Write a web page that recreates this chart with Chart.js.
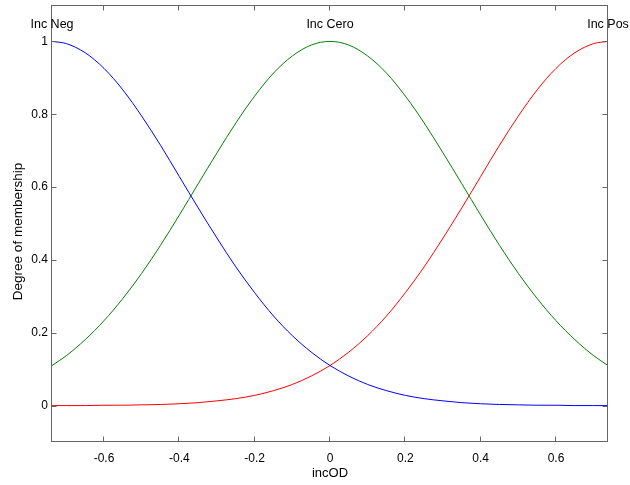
<!DOCTYPE html>
<html>
<head>
<meta charset="utf-8">
<script src="https://cdn.jsdelivr.net/npm/chart.js@4/dist/chart.umd.min.js"></script>
<style>
  html, body { margin: 0; padding: 0; background: #fff; }
</style>
</head>
<body>
<canvas id="mfChart" width="630" height="485"></canvas>
<script>
// incOD input values
const xValues = [-0.738, -0.7, -0.65, -0.6, -0.55, -0.5, -0.45, -0.4, -0.35, -0.3, -0.25, -0.2, -0.15, -0.1, -0.05,
                 0, 0.05, 0.1, 0.15, 0.2, 0.25, 0.3, 0.35, 0.4, 0.45, 0.5, 0.55, 0.6, 0.65, 0.7, 0.738];

// membership degree of each set
const incNeg = [1, 0.994, 0.969, 0.926, 0.867, 0.795, 0.715, 0.629, 0.543, 0.46, 0.381, 0.31, 0.246, 0.192, 0.147,
                0.11, 0.081, 0.058, 0.041, 0.028, 0.019, 0.013, 0.008, 0.005, 0.003, 0.002, 0.001, 0.001, 0, 0, 0];
const incCero = [0.11, 0.137, 0.181, 0.233, 0.294, 0.363, 0.44, 0.523, 0.609, 0.694, 0.776, 0.85, 0.913, 0.96, 0.99,
                 1, 0.99, 0.96, 0.913, 0.85, 0.776, 0.694, 0.609, 0.523, 0.44, 0.363, 0.294, 0.233, 0.181, 0.137, 0.11];
const incPos = [0, 0, 0, 0.001, 0.001, 0.002, 0.003, 0.005, 0.008, 0.013, 0.019, 0.028, 0.041, 0.058, 0.081,
                0.11, 0.147, 0.192, 0.246, 0.31, 0.381, 0.46, 0.543, 0.629, 0.715, 0.795, 0.867, 0.926, 0.969, 0.994, 1];

const mfNames = ['Inc Neg', 'Inc Cero', 'Inc Pos'];
const mfPeaks = [-0.738, 0, 0.738];
const mfColors = ['#0000ff', '#008000', '#ff0000'];

const xTicks = [-0.6, -0.4, -0.2, 0, 0.2, 0.4, 0.6];
const yTicks = [0, 0.2, 0.4, 0.6, 0.8, 1];

const fontFamily = '"Liberation Sans", Arial, sans-serif';

function toPoints(ys) {
    return xValues.map((x, i) => ({ x: x, y: ys[i] }));
}

// MATLAB style box with inward ticks, the set names over each peak and the y label
const axesBox = {
    id: 'axesBox',
    afterDatasetsDraw(chart) {
        const ctx = chart.ctx;
        const a = chart.chartArea;
        const xs = chart.scales.x;
        const ys = chart.scales.y;
        const l = Math.round(a.left) - 0.5, r = Math.round(a.right) - 0.5;
        const t = Math.round(a.top) + 0.5, b = Math.round(a.bottom) - 0.5;
        ctx.save();
        ctx.strokeStyle = '#666';
        ctx.lineWidth = 1;
        ctx.strokeRect(l, t, r - l, b - t);
        ctx.beginPath();
        xTicks.forEach(v => {
            const px = Math.round(xs.getPixelForValue(v)) - 0.5;
            ctx.moveTo(px, b); ctx.lineTo(px, b - 5);
            ctx.moveTo(px, t); ctx.lineTo(px, t + 5);
        });
        yTicks.forEach(v => {
            const py = Math.round(ys.getPixelForValue(v)) + 0.5;
            ctx.moveTo(l, py); ctx.lineTo(l + 5, py);
            ctx.moveTo(r, py); ctx.lineTo(r - 5, py);
        });
        ctx.stroke();

        ctx.fillStyle = '#000';
        ctx.font = '12.5px ' + fontFamily;
        ctx.textAlign = 'center';
        ctx.textBaseline = 'middle';
        mfNames.forEach((name, i) => {
            ctx.fillText(name, xs.getPixelForValue(mfPeaks[i]), ys.getPixelForValue(1.047));
        });

        // y label sits a little below the middle of the axes, as in the original
        ctx.font = '13.5px ' + fontFamily;
        ctx.translate(18, (a.top + a.bottom) / 2 + 8);
        ctx.rotate(-Math.PI / 2);
        ctx.fillText('Degree of membership', 0, 0);
        ctx.restore();
    }
};

const tickFont = { family: fontFamily, size: 12 };

new Chart(document.getElementById('mfChart'), {
    type: 'line',
    data: {
        datasets: [
            { label: mfNames[0], data: toPoints(incNeg), borderColor: mfColors[0] },
            { label: mfNames[1], data: toPoints(incCero), borderColor: mfColors[1] },
            { label: mfNames[2], data: toPoints(incPos), borderColor: mfColors[2] }
        ]
    },
    options: {
        responsive: false,
        animation: false,
        layout: { padding: { top: 5, right: 22, left: 0, bottom: 0 } },
        elements: {
            line: { borderWidth: 1, cubicInterpolationMode: 'monotone', fill: false },
            point: { radius: 0 }
        },
        scales: {
            x: {
                type: 'linear',
                min: -0.738,
                max: 0.738,
                grid: { display: false, drawTicks: false },
                border: { display: false },
                afterBuildTicks: scale => { scale.ticks = xTicks.map(v => ({ value: v })); },
                afterFit: scale => {
                    scale.height = 43;
                    scale.paddingLeft = 0;
                    scale.paddingRight = 0;
                },
                ticks: {
                    color: '#000',
                    font: tickFont,
                    padding: 9,
                    maxRotation: 0,
                    callback: v => String(v)
                },
                title: {
                    display: true,
                    text: 'incOD',
                    color: '#000',
                    font: { family: fontFamily, size: 13 },
                    padding: { top: 0, bottom: 4 }
                }
            },
            y: {
                type: 'linear',
                min: -0.1,
                max: 1.1,
                grid: { display: false, drawTicks: false },
                border: { display: false },
                afterBuildTicks: scale => { scale.ticks = yTicks.map(v => ({ value: v })); },
                afterFit: scale => {
                    scale.width = 52;
                    scale.paddingTop = 0;
                    scale.paddingBottom = 0;
                },
                ticks: {
                    color: '#000',
                    font: tickFont,
                    padding: 4,
                    callback: v => String(v)
                }
            }
        },
        plugins: {
            legend: { display: false },
            tooltip: { enabled: false }
        }
    },
    plugins: [axesBox]
});
</script>
</body>
</html>
